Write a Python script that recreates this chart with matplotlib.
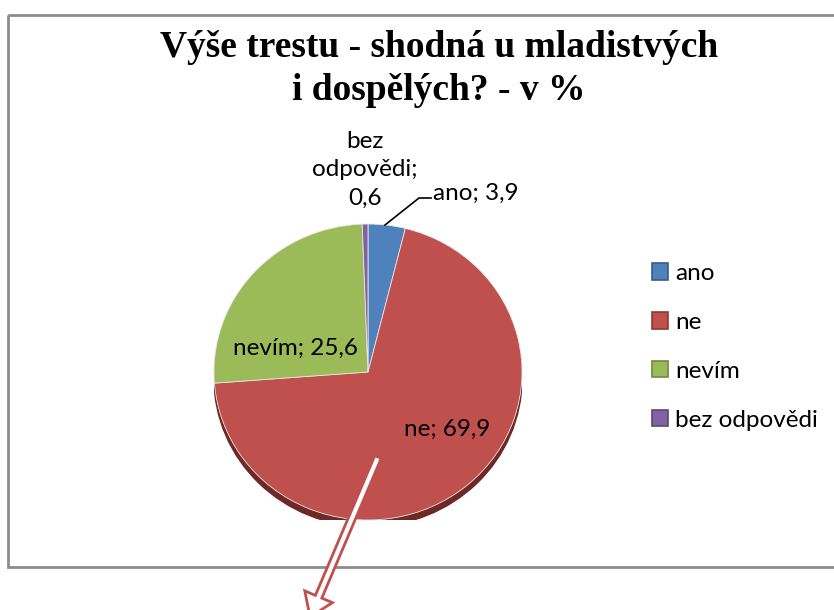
import matplotlib.pyplot as plt
from matplotlib.patches import Ellipse, FancyArrow, Rectangle, Patch

# data
categories = ["ano", "ne", "nevím", "bez odpovědi"]
values = [3.9, 69.9, 25.6, 0.6]
value_text = ["3,9", "69,9", "25,6", "0,6"]
colors = ["#4F81BD", "#C0504D", "#9BBB59", "#8064A2"]
edge_colors = ["#385d8a", "#8c3836", "#71893f", "#5c4776"]

W, H = 834, 610
fig = plt.figure(figsize=(W / 100, H / 100), dpi=100)
plt.rcParams["font.family"] = ["Lato", "DejaVu Sans"]

# pie (slightly squashed to mimic the 3D tilt)
pax = fig.add_axes([214 / W, (H - 520) / H, 308 / W, 296 / H])
pax.add_patch(Ellipse((0.0, -0.045), 2.0, 2.0, color="#6e2826", zorder=0))
wedges, _ = pax.pie(values, colors=colors, startangle=90, counterclock=False,
                    radius=1, wedgeprops=dict(edgecolor="#e8e8e8", linewidth=0.6))
pax.set_aspect("auto")
pax.set_xlim(-1, 1)
pax.set_ylim(-1, 1)

# overlay axes in pixel units (y downwards), drawn above the pie
bg = fig.add_axes([0, 0, 1, 1])
bg.set_xlim(0, W)
bg.set_ylim(H, 0)
bg.axis("off")
bg.add_patch(Rectangle((8, 15), 840, 552, fill=False, edgecolor="#8c8c8c", lw=2))

bg.text(439, 69, "Výše trestu - shodná u mladistvých\ni dospělých? - v %",
        ha="center", va="center", fontsize=27, fontweight="bold",
        family="Liberation Serif", linespacing=1.32)

fs = 17.5
# data labels
bg.text(365, 170, "bez\nodpovědi;\n" + value_text[3], ha="center", va="center",
        fontsize=fs, linespacing=1.45)
bg.text(433, 193, categories[0] + "; " + value_text[0], ha="left", va="center", fontsize=fs)
bg.plot([431, 419, 385], [198, 198, 225], color="black", lw=1.2)
bg.text(295, 348, categories[2] + "; " + value_text[2], ha="center", va="center", fontsize=fs)
bg.text(447, 429, categories[1] + "; " + value_text[1], ha="center", va="center", fontsize=fs)

# legend
handles = [Patch(facecolor=c, edgecolor=e, lw=1.2) for c, e in zip(colors, edge_colors)]
fig.legend(handles, categories, loc="upper left", bbox_to_anchor=(652 / W, 1 - 263 / H),
           frameon=False, fontsize=fs, borderpad=0, borderaxespad=0,
           handlelength=0.65, handleheight=0.65, handletextpad=0.3, labelspacing=1.15)

# arrow
bg.add_patch(FancyArrow(378, 457, -68, 160, width=7, head_width=30, head_length=22,
                        length_includes_head=True, facecolor="white",
                        edgecolor="#C0504D", lw=2, zorder=5))

fig.savefig("out.png", dpi=100)
